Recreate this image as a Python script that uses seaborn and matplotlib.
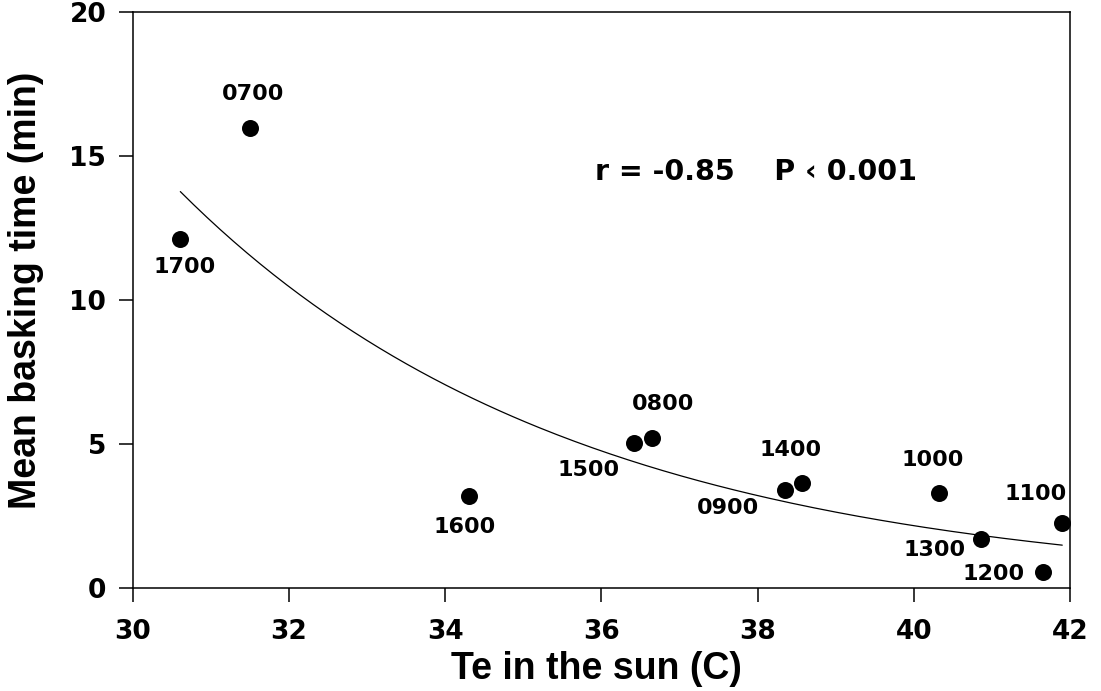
import matplotlib
matplotlib.use('Agg')
import numpy as np
import pandas as pd
import seaborn as sns
from matplotlib import pyplot as plt

# values
hours = ["0700", "1700", "1600", "1500", "0800", "0900", "1400", "1000", "1100", "1300", "1200"]
te_sun = [31.50, 30.61, 34.31, 36.42, 36.65, 38.35, 38.57, 40.32, 41.90, 40.86, 41.65]
basking = [16.0, 12.14, 3.20, 5.05, 5.22, 3.40, 3.64, 3.31, 2.25, 1.69, 0.57]

x_ticks = [30, 32, 34, 36, 38, 40, 42]
y_ticks = [0, 5, 10, 15, 20]

# label offsets (pixels) from each point
label_offsets = {
    "0700": (3, 34), "1700": (4, -28), "1600": (-5, -31), "1500": (-46, -27),
    "0800": (11, 34), "0900": (-57, -18), "1400": (-12, 33), "1000": (-6, 33),
    "1100": (-27, 29), "1300": (-46, -11), "1200": (-49, -2),
}

df = pd.DataFrame({"hour": hours, "te": te_sun, "bask": basking})

# exponential fit (log-linear), drawn over the data range
b, a = np.polyfit(df["te"], np.log(df["bask"]), 1)
xs = np.linspace(df["te"].min(), df["te"].max(), 200)
fit = pd.DataFrame({"te": xs, "bask": np.exp(a + b * xs)})

sns.set_style("white")
plt.rcParams['font.family'] = ['Liberation Sans', 'DejaVu Sans']
plt.rcParams['text.color'] = 'black'
plt.rcParams['axes.labelcolor'] = 'black'
plt.rcParams['xtick.color'] = 'black'
plt.rcParams['ytick.color'] = 'black'

fig = plt.figure(figsize=(11.01, 6.91), dpi=100)
ax = fig.add_axes([0.1205, 0.149, 0.8514, 0.833])

sns.lineplot(data=fit, x="te", y="bask", color="black", linewidth=0.9, ax=ax)
sns.scatterplot(data=df, x="te", y="bask", color="black", s=150, edgecolor="black",
                linewidth=0, zorder=3, ax=ax, clip_on=False)

for _, row in df.iterrows():
    dx, dy = label_offsets[row["hour"]]
    ax.annotate(row["hour"], (row["te"], row["bask"]), xytext=(dx, dy),
                textcoords="offset pixels", ha="center", va="center",
                fontsize=16, fontweight="bold", family="DejaVu Sans")

ax.text(595 / 1101, 1 - 172 / 691, "r = -0.85    P \u2039 0.001", transform=fig.transFigure,
        fontsize=20.5, fontweight="bold", family="DejaVu Sans", ha="left", va="center")

ax.set_xlim(30, 42)
ax.set_ylim(0, 20)
ax.set_xticks(x_ticks)
ax.set_yticks(y_ticks)
ax.tick_params(axis="both", direction="out", length=10, width=1.1, labelsize=19,
               bottom=True, left=True, top=False, right=False)
ax.tick_params(axis="y", pad=9)
ax.tick_params(axis="x", pad=12)
for lab in ax.get_xticklabels() + ax.get_yticklabels():
    lab.set_fontweight("bold")
    lab.set_family("DejaVu Sans")
for sp in ax.spines.values():
    sp.set_linewidth(1.1)
    sp.set_color("black")

ax.set_xlabel("Te in the sun (C)", fontsize=27, fontweight="bold")
ax.set_ylabel("Mean basking time (min)", fontsize=27, fontweight="bold")
ax.xaxis.set_label_coords(0.495, -0.109)
ax.yaxis.set_label_coords(-0.095, 0.518)

plt.savefig("out.png", dpi=100)
